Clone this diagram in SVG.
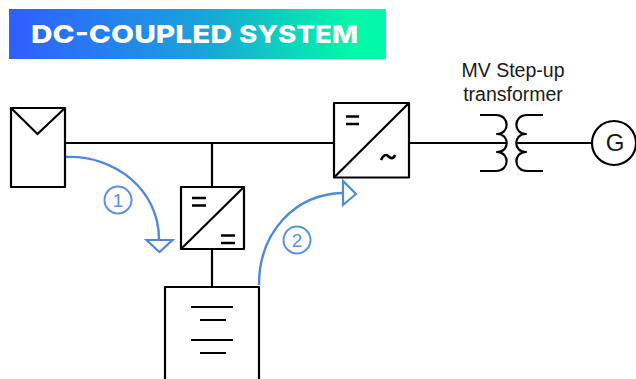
<svg xmlns="http://www.w3.org/2000/svg" width="636" height="379" viewBox="0 0 636 379">
<defs>
<linearGradient id="bn" x1="0" x2="1" y1="0" y2="0"><stop offset="0.03" stop-color="#2e62ff"/><stop offset="0.5" stop-color="#1ba0dc"/><stop offset="0.9" stop-color="#00f8a8"/><stop offset="1" stop-color="#00f8a8"/></linearGradient>
</defs>
<style>
.k{fill:none;stroke:#000;stroke-width:2.2;stroke-linejoin:round}
.e{fill:none;stroke:#000;stroke-width:2.6}
.b{fill:none;stroke:#4f8ad8;stroke-width:2.4}
.c{fill:none;stroke:#5b93dc;stroke-width:2}
.w{fill:#fff;stroke:#4f8ad8;stroke-width:2.2;stroke-linejoin:miter}
.l{font-family:"Liberation Sans",Arial,sans-serif;fill:#1a1a1a;text-anchor:middle}
.n{font-family:"Liberation Sans",Arial,sans-serif;fill:#5b93dc;font-size:19px;text-anchor:middle}
.h{font-family:Inter,"Liberation Sans",sans-serif;font-weight:800;font-size:25px;fill:#fff}
</style>
<g id="banner">
<rect x="9" y="9" width="377" height="50" fill="url(#bn)"/>
<text class="h" x="31" y="43" textLength="201" lengthAdjust="spacingAndGlyphs">DC-COUPLED</text>
<text class="h" x="239" y="43" textLength="119" lengthAdjust="spacingAndGlyphs">SYSTEM</text>
</g>
<g id="connectors">
<path class="k" d="M65 143H334M212 143V187M212 249V287M409 143H506M516 143H592"/>
<path class="b" d="M66 157C115 155 159 190 159 239"/>
<path class="b" d="M259 285C259 232 295 194 343 193"/>
<path class="w" d="M146.500 240H172.500L159.500 252Z"/>
<path class="w" d="M343 181V205L356 194Z"/>
</g>
<g id="pv">
<rect class="k" x="11" y="108" width="54" height="79"/>
<path class="k" d="M11 108L37.500 134L65 108"/>
</g>
<g id="dcdc">
<rect class="k" x="181" y="187" width="63" height="62"/>
<path class="k" d="M181 249L244 187"/>
<path class="e" d="M192 198H206M192 205.500H206M221 235.500H235M221 243H235"/>
</g>
<g id="battery">
<path class="k" d="M165 381V287H259V381"/>
<path class="k" d="M191 307H233M200 320H226M191 340H233M200 353H226"/>
</g>
<g id="inverter">
<rect class="k" x="334" y="103" width="75" height="74.500"/>
<path class="k" d="M334 177.500L409 103"/>
<path class="e" d="M346 116.500H359M346 124H359"/>
<path class="e" stroke-width="3" d="M381 160C383 155 386 154 388 156C390 158 393 160 395 155"/>
</g>
<g id="transformer">
<path class="k" d="M480 115H496C510 115 510 134 497 134C510 134 510 152 497 152C510 152 510 171 496 171H480"/>
<path class="k" d="M543 115H527C513 115 513 134 526 134C513 134 513 152 526 152C513 152 513 171 527 171H543"/>
<text class="l" x="513" y="77" font-size="19.500">MV Step-up</text>
<text class="l" x="513" y="101" font-size="19.500">transformer</text>
</g>
<g id="generator">
<circle class="k" cx="614" cy="143" r="22"/>
<text class="l" x="615" y="151" font-size="24">G</text>
</g>
<g id="step1">
<circle class="c" cx="118" cy="200" r="13.500"/>
<text class="n" x="118" y="206.500">1</text>
</g>
<g id="step2">
<circle class="c" cx="297" cy="240" r="13.500"/>
<text class="n" x="297" y="246.500">2</text>
</g>
</svg>
